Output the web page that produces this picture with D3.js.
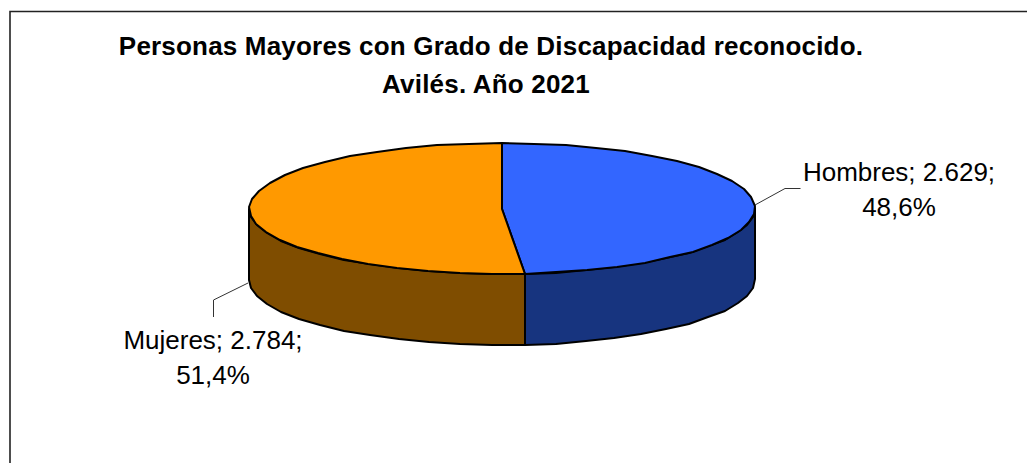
<!DOCTYPE html>
<html>
<head>
<meta charset="utf-8">
<script src="https://cdn.jsdelivr.net/npm/d3@7"></script>
<style>
  html, body { margin: 0; padding: 0; background: #fff; }
  svg { display: block; }
  text { font-family: "Liberation Sans", Arial, sans-serif; fill: #000; }
</style>
</head>
<body>
<div id="chart"></div>
<script>
var titleLines = ["Personas Mayores con Grado de Discapacidad reconocido.", "Avilés. Año 2021"];
var categories = ["Hombres", "Mujeres"];
var values = [2629, 2784];
var percents = ["48,6%", "51,4%"];
var topColors = ["#3366ff", "#ff9900"];
var sideColors = ["#17347f", "#7f4d00"];

var width = 1027, height = 463;
var depth = 71;

var svg = d3.select("#chart").append("svg")
  .attr("width", width)
  .attr("height", height);

// frame, only top and left fall inside the picture
svg.append("path")
  .attr("d", "M1027,11.5H10V463")
  .attr("fill", "none")
  .attr("stroke", "#222")
  .attr("stroke-width", 1.6);

svg.selectAll(".title")
  .data(titleLines)
  .enter()
  .append("text")
  .attr("class", "title")
  .attr("x", function (d, i) { return i == 0 ? 491 : 486; })
  .attr("y", function (d, i) { return 55 + i * 38; })
  .attr("text-anchor", "middle")
  .attr("font-size", 26)
  .attr("letter-spacing", 0.19)
  .attr("font-weight", "bold")
  .text(function (d) { return d; });

// rounded ranges give the slightly rough rim of the original
var px = d3.scaleLinear().domain([-1, 1]).rangeRound([249, 755]);
var py = d3.scaleLinear().domain([-1, 1]).rangeRound([143, 274]);

var pie = d3.pie().sort(null)(values);

// points along the rim, a bit coarse like the original
function rim(a0, a1) {
  var n = Math.max(2, Math.ceil((a1 - a0) / (Math.PI / 24)));
  return d3.range(n + 1).map(function (i) {
    var a = a0 + (a1 - a0) * i / n;
    return [Math.sin(a), -Math.cos(a)];
  });
}

var line = d3.line()
  .x(function (d) { return px(d[0]); })
  .y(function (d) { return py(d[1]); });

var sideLine = d3.line()
  .x(function (d) { return px(d[0]); })
  .y(function (d) { return py(d[1]) + (d[2] ? depth : 0); });

// side walls: only the front half of the ellipse shows
pie.forEach(function (s, i) {
  var a0 = Math.max(s.startAngle, Math.PI / 2);
  var a1 = Math.min(s.endAngle, 3 * Math.PI / 2);
  var r = rim(a0, a1);
  var pts = r.map(function (p) { return [p[0], p[1], 0]; })
    .concat(r.slice().reverse().map(function (p) { return [p[0], p[1], 1]; }));
  svg.append("path")
    .attr("d", sideLine(pts) + "Z")
    .attr("fill", sideColors[i])
    .attr("stroke", "#000")
    .attr("stroke-width", 2)
    .attr("stroke-linejoin", "round");
});

// top faces
svg.selectAll(".slice")
  .data(pie)
  .enter()
  .append("path")
  .attr("class", "slice")
  .attr("d", function (d) { return line([[0, 0]].concat(rim(d.startAngle, d.endAngle))) + "Z"; })
  .attr("fill", function (d, i) { return topColors[i]; })
  .attr("stroke", "#000")
  .attr("stroke-width", 2)
  .attr("stroke-linejoin", "round");

// leader lines
var leaders = [
  [[755, 205], [785, 188.5], [800.5, 188.5]],
  [[248, 283], [213.5, 300], [213.5, 317]]
];
svg.selectAll(".leader")
  .data(leaders)
  .enter()
  .append("path")
  .attr("class", "leader")
  .attr("d", d3.line())
  .attr("fill", "none")
  .attr("stroke", "#333")
  .attr("stroke-width", 1);

var labelPos = [[899, 181], [213, 349]];
categories.forEach(function (c, i) {
  var t = svg.append("text")
    .attr("text-anchor", "middle")
    .attr("font-size", 26);
  t.append("tspan").attr("x", labelPos[i][0]).attr("y", labelPos[i][1])
    .text(c + "; " + d3.format(",")(values[i]).replace(",", ".") + ";");
  t.append("tspan").attr("x", labelPos[i][0]).attr("y", labelPos[i][1] + 34.5)
    .text(percents[i]);
});
</script>
</body>
</html>
